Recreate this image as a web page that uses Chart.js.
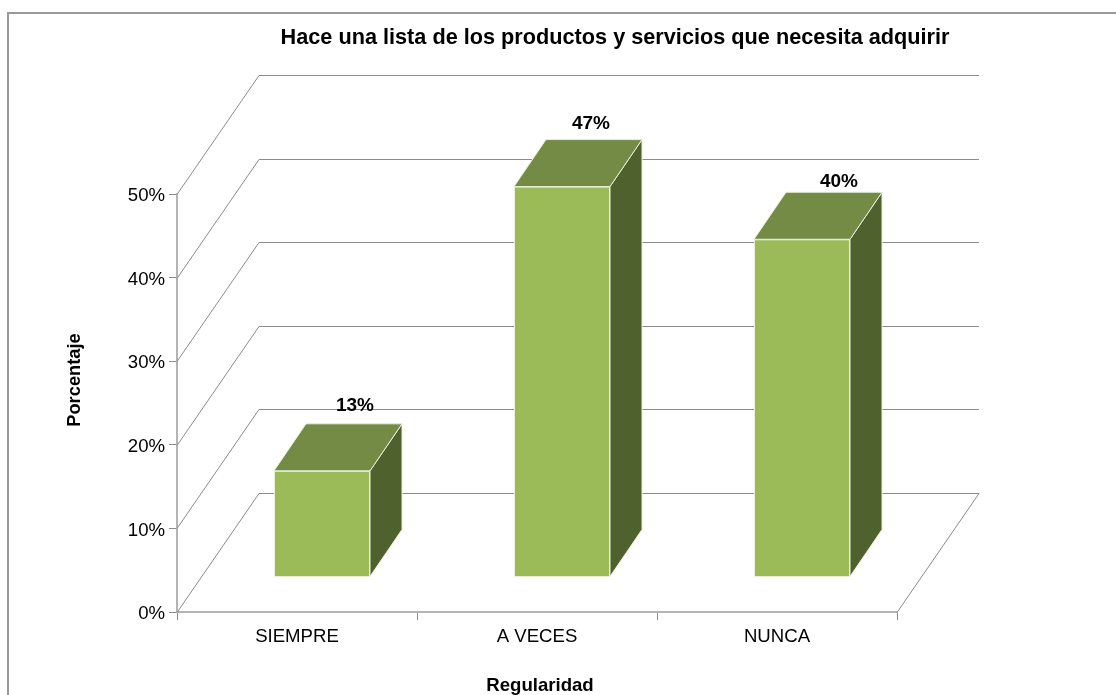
<!DOCTYPE html>
<html><head><meta charset="utf-8">
<style>html,body{margin:0;padding:0;background:#fff;overflow:hidden}canvas{display:block}</style>
<script src="https://cdn.jsdelivr.net/npm/chart.js@4"></script></head>
<body><div style="width:1116px;height:695px"><canvas id="c"></canvas></div>
<script>
const categories = ['SIEMPRE', 'A VECES', 'NUNCA'];
const values = [12.7, 46.7, 40.4];
const valueLabels = ['13%', '47%', '40%'];
const yTicks = [0, 10, 20, 30, 40, 50];
const titleText = 'Hace una lista de los productos y servicios que necesita adquirir';
const xTitle = 'Regularidad';
const yTitle = 'Porcentaje';

const FONT = '"Liberation Sans", Arial, sans-serif';
const GRID = '#8c8c8c', AXIS = '#b4b4b4';
const WALL = {dx: 82, dy: -119};      // depth of the floor and back wall
const BAR = {ox: 25, oy: -35, dx: 32, dy: -47}; // bar position on the floor and bar depth
const labelNudge = [[33, -65], [29, -63], [37, -57]];

function line(ctx, x1, y1, x2, y2, color, w) {
  ctx.strokeStyle = color; ctx.lineWidth = w || 1; ctx.beginPath();
  ctx.moveTo(x1, y1); ctx.lineTo(x2, y2); ctx.stroke();
}
function poly(ctx, pts, fill, stroke) {
  ctx.beginPath(); pts.forEach((p, i) => i ? ctx.lineTo(p[0], p[1]) : ctx.moveTo(p[0], p[1])); ctx.closePath();
  ctx.fillStyle = fill; ctx.fill();
  ctx.strokeStyle = stroke; ctx.lineWidth = 1; ctx.stroke();
}

const scene = {
  id: 'scene',
  beforeDatasetsDraw(chart) {
    const {ctx, scales: {x, y}} = chart;
    const L = x.left, R = x.right;
    ctx.save();
    // frame: top and left edges only
    line(ctx, 8, 695, 8, 13, '#9a9a9a', 2);
    line(ctx, 7, 13, 1116, 13, '#9a9a9a', 2);
    // walls
    yTicks.forEach(v => {
      const py = Math.round(y.getPixelForValue(v)) + .5;
      line(ctx, L, py, L + WALL.dx, py + WALL.dy, GRID);
      line(ctx, L + WALL.dx, py + WALL.dy, R + WALL.dx, py + WALL.dy, GRID);
    });
    const by = Math.round(y.getPixelForValue(0)) + .5;
    line(ctx, R, by, R + WALL.dx, by + WALL.dy, GRID);
    ctx.restore();
    ctx.save();
    ctx.translate(BAR.ox, BAR.oy);   // the library's bars stand on the floor, behind the front edge
  },
  afterDatasetsDraw(chart) {
    const {ctx} = chart;
    ctx.restore();
    const meta = chart.getDatasetMeta(0);
    ctx.save();
    meta.data.forEach((b, i) => {
      const l = b.x - b.width / 2 + BAR.ox, r = b.x + b.width / 2 + BAR.ox;
      const t = b.y + BAR.oy, bt = b.base + BAR.oy;
      poly(ctx, [[r, t], [r + BAR.dx, t + BAR.dy], [r + BAR.dx, bt + BAR.dy], [r, bt]], '#4f612d', '#e8efdc');
      poly(ctx, [[l, t], [l + BAR.dx, t + BAR.dy], [r + BAR.dx, t + BAR.dy], [r, t]], '#748b45', '#e8efdc');
      ctx.font = 'bold 19px ' + FONT; ctx.fillStyle = '#000';
      ctx.textAlign = 'center'; ctx.textBaseline = 'middle';
      ctx.fillText(valueLabels[i], b.x + BAR.ox + labelNudge[i][0], b.y + BAR.oy + labelNudge[i][1]);
    });
    ctx.font = 'bold 21.7px ' + FONT; ctx.textAlign = 'center'; ctx.textBaseline = 'middle';
    ctx.fillText(titleText, 615, 38);
    ctx.font = 'bold 18.6px ' + FONT;
    ctx.fillText(xTitle, 540, 686);
    ctx.translate(75, 380); ctx.rotate(-Math.PI / 2);
    ctx.font = 'bold 18.3px ' + FONT;
    ctx.fillText(yTitle, 0, 0);
    ctx.restore();
  }
};

new Chart(document.getElementById('c'), {
  type: 'bar',
  data: {labels: categories, datasets: [{
    data: values, backgroundColor: '#9bbb59', borderColor: '#e8efdc', borderWidth: 1,
    barPercentage: 0.4, categoryPercentage: 1
  }]},
  options: {
    responsive: true, maintainAspectRatio: false, animation: false,
    layout: {padding: {left: 0, top: 194, right: 219, bottom: 0}},
    plugins: {legend: {display: false}, tooltip: {enabled: false}},
    scales: {
      x: {
        grid: {drawOnChartArea: false, drawTicks: true, tickLength: 8, color: AXIS, tickColor: GRID},
        border: {color: AXIS, width: 2},
        ticks: {color: '#000', font: {family: FONT, size: 18.6}, padding: 6, maxRotation: 0},
        afterFit(s) { s.height = 83; }
      },
      y: {
        min: 0, max: 50, afterBuildTicks(s) { s.ticks = yTicks.map(v => ({value: v})); },
        grid: {drawOnChartArea: false, drawTicks: true, tickLength: 8, tickColor: GRID},
        border: {color: AXIS, width: 2},
        ticks: {color: '#000', font: {family: FONT, size: 18.6}, padding: 4, labelOffset: 2, callback: v => v + '%'},
        afterFit(s) { s.width = 177; }
      }
    }
  },
  plugins: [scene]
});
</script></body></html>
